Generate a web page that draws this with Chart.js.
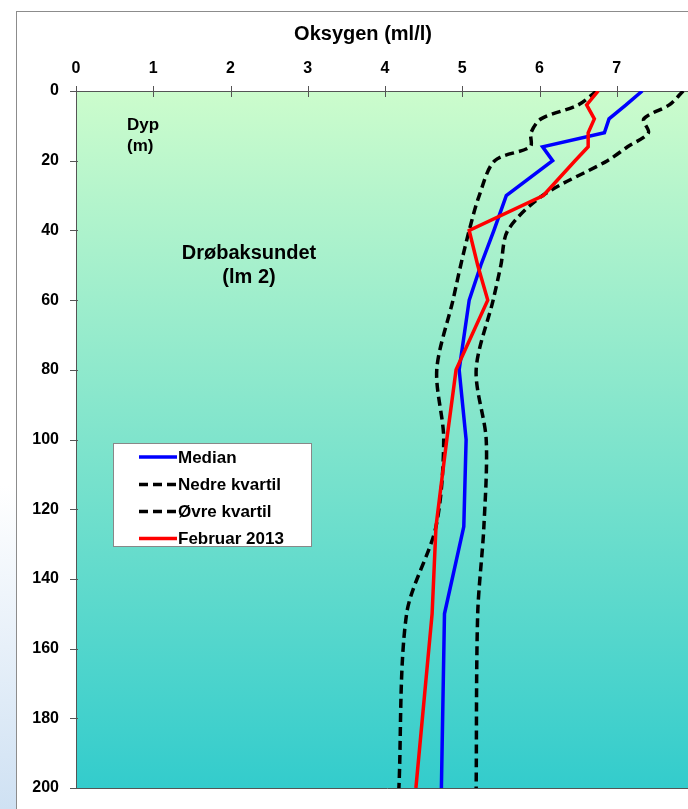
<!DOCTYPE html>
<html>
<head>
<meta charset="utf-8">
<title>Oksygen Drøbaksundet</title>
<script src="https://cdn.jsdelivr.net/npm/chart.js@4.4.1/dist/chart.umd.min.js"></script>
<style>
  html, body { margin: 0; padding: 0; width: 688px; height: 809px; overflow: hidden; }
  body {
    position: relative;
    background: linear-gradient(to bottom, #ffffff 0%, #ffffff 60%, #cfe1f3 100%);
    font-family: "Liberation Sans", Arial, sans-serif;
  }
  #frame {
    position: absolute; left: 16px; top: 11px; width: 720px; height: 830px;
    background: #ffffff; border: 1px solid #8c8c8c;
  }
  #chart { position: absolute; left: 0; top: 0; }
</style>
</head>
<body>
<div id="frame"></div>
<canvas id="chart" width="720" height="809"></canvas>
<script>
// Depths (m) at which the profiles are drawn
const depths = [0, 4, 8, 12, 16, 20, 30, 40, 50, 60, 80, 100, 125, 150, 200];

// Oxygen (ml/l)
const median     = [7.33, 7.12, 6.90, 6.84, 6.04, 6.17, 5.57, 5.41, 5.24, 5.09, 4.96, 5.05, 5.02, 4.77, 4.73];
const nedreKv    = [6.74, 6.50, 6.02, 5.89, 5.88, 5.42, 5.22, 5.09, 4.98, 4.88, 4.67, 4.76, 4.66, 4.28, 4.18];
const ovreKv     = [7.86, 7.68, 7.35, 7.41, 7.14, 6.88, 6.04, 5.59, 5.50, 5.40, 5.18, 5.31, 5.28, 5.20, 5.18];
const feb2013    = [6.76, 6.61, 6.71, 6.63, 6.63, 6.46, 6.05, 5.09, 5.20, 5.33, 4.92, 4.80, 4.66, 4.61, 4.40];

const xTicks = [0, 1, 2, 3, 4, 5, 6, 7, 8];
const yTicks = [0, 20, 40, 60, 80, 100, 120, 140, 160, 180, 200];

const labels = ['Median', 'Nedre kvartil', 'Øvre kvartil', 'Februar 2013'];

const FONT = '"Liberation Sans", Arial, sans-serif';

function profile(values) {
    return depths.map((d, i) => ({ x: values[i], y: d }));
}

// Gradient plot area, frame lines and crossing tick marks
const plotBackground = {
    id: 'plotBackground',
    beforeDatasetsDraw(chart) {
        const { ctx, chartArea: a, scales } = chart;
        ctx.save();
        const g = ctx.createLinearGradient(0, a.top, 0, a.bottom);
        g.addColorStop(0, '#ccfccc');
        g.addColorStop(1, '#33cccc');
        ctx.fillStyle = g;
        ctx.fillRect(a.left, a.top, a.right - a.left, a.bottom - a.top);

        ctx.strokeStyle = '#555555';
        ctx.lineWidth = 1;
        ctx.beginPath();
        ctx.moveTo(a.right + 5, a.top + 0.5);
        ctx.lineTo(a.left + 0.5, a.top + 0.5);
        ctx.lineTo(a.left + 0.5, a.bottom + 0.5);
        ctx.lineTo(a.right + 5, a.bottom + 0.5);
        // ticks
        xTicks.forEach(v => {
            const px = Math.round(scales.x.getPixelForValue(v)) + 0.5;
            ctx.moveTo(px, a.top - 5);
            ctx.lineTo(px, a.top + 6);
        });
        yTicks.forEach(v => {
            const py = Math.round(scales.y.getPixelForValue(v)) + 0.5;
            ctx.moveTo(a.left - 6, py);
            ctx.lineTo(a.left + 2, py);
        });
        ctx.stroke();
        ctx.restore();
    }
};

// Title, labels inside the plot and the legend box
const annotations = {
    id: 'annotations',
    afterDraw(chart) {
        const { ctx } = chart;
        ctx.save();
        ctx.fillStyle = '#000';
        ctx.textBaseline = 'alphabetic';

        ctx.font = 'bold 20px ' + FONT;
        ctx.textAlign = 'center';
        ctx.fillText('Oksygen (ml/l)', 363, 40);

        ctx.font = 'bold 17px ' + FONT;
        ctx.textAlign = 'left';
        ctx.fillText('Dyp', 127, 130);
        ctx.fillText('(m)', 127, 151);

        ctx.font = 'bold 20px ' + FONT;
        ctx.textAlign = 'center';
        ctx.fillText('Drøbaksundet', 249, 259);
        ctx.fillText('(lm 2)', 249, 283);

        // legend
        const bx = 113, by = 443, bw = 198, bh = 103;
        ctx.fillStyle = '#ffffff';
        ctx.fillRect(bx, by, bw, bh);
        ctx.strokeStyle = '#888888';
        ctx.lineWidth = 1;
        ctx.strokeRect(bx + 0.5, by + 0.5, bw, bh);

        const rows = [457, 484.5, 511.5, 538.5];
        chart.data.datasets.forEach((ds, i) => {
            const y = rows[i];
            ctx.beginPath();
            ctx.strokeStyle = ds.borderColor;
            ctx.lineWidth = 3.5;
            ctx.setLineDash(ds.borderDash || []);
            ctx.moveTo(139, y);
            ctx.lineTo(177, y);
            ctx.stroke();
            ctx.setLineDash([]);
            ctx.fillStyle = '#000';
            ctx.font = 'bold 17px ' + FONT;
            ctx.textAlign = 'left';
            ctx.textBaseline = 'middle';
            ctx.fillText(ds.label, 178, y + 1);
        });
        ctx.restore();
    }
};

const ctx = document.getElementById('chart').getContext('2d');
new Chart(ctx, {
    type: 'scatter',
    data: {
        datasets: [
            { label: labels[0], data: profile(median), borderColor: '#0000ff', order: 1, tension: 0 },
            { label: labels[1], data: profile(nedreKv), borderColor: '#000000', borderDash: [9, 5], order: 2, tension: 0.3 },
            { label: labels[2], data: profile(ovreKv), borderColor: '#000000', borderDash: [9, 5], order: 2, tension: 0.3 },
            { label: labels[3], data: profile(feb2013), borderColor: '#ff0000', order: 0, tension: 0 }
        ]
    },
    options: {
        responsive: false,
        animation: false,
        showLine: true,
        layout: { padding: { left: 0, top: 0, right: 26, bottom: 21 } },
        datasets: {
            scatter: { borderWidth: 3.5, pointRadius: 0, pointHoverRadius: 0, fill: false }
        },
        plugins: {
            legend: { display: false },
            tooltip: { enabled: false }
        },
        scales: {
            x: {
                type: 'linear',
                position: 'top',
                min: 0, max: 8,
                afterBuildTicks: s => { s.ticks = xTicks.map(v => ({ value: v })); },
                afterFit: s => { s.height = 91; s.paddingLeft = 0; s.paddingRight = 0; },
                grid: { display: false, drawTicks: false },
                border: { display: false },
                ticks: { color: '#000', padding: 13, font: { family: FONT, size: 16, weight: 'bold' } }
            },
            y: {
                type: 'linear',
                reverse: true,
                min: 0, max: 200,
                afterBuildTicks: s => { s.ticks = yTicks.map(v => ({ value: v })); },
                afterFit: s => { s.width = 76; s.paddingTop = 0; s.paddingBottom = 0; },
                grid: { display: false, drawTicks: false },
                border: { display: false },
                ticks: { color: '#000', padding: 17, font: { family: FONT, size: 16, weight: 'bold' } }
            }
        }
    },
    plugins: [plotBackground, annotations]
});
</script>
</body>
</html>
